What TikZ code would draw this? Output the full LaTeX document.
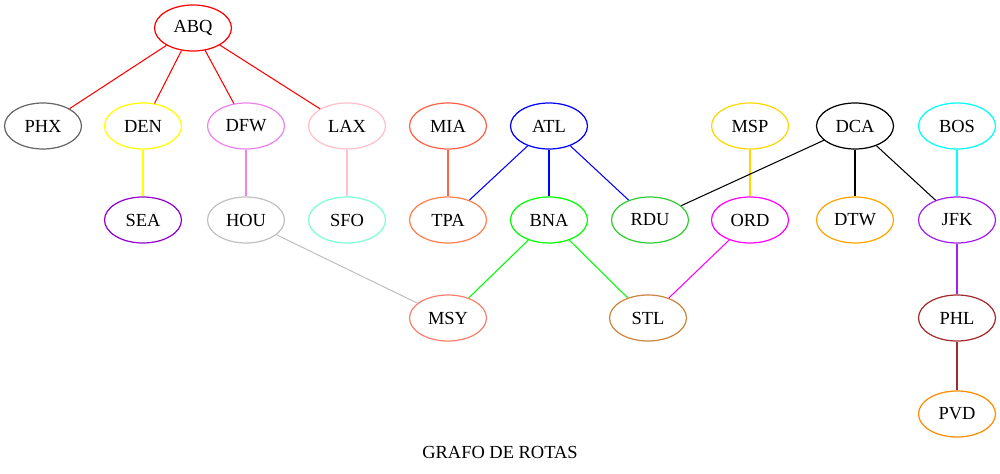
\documentclass[tikz,border=0pt]{standalone}
\usepackage{fontspec}
\setmainfont{Liberation Serif}
\usetikzlibrary{shapes.geometric}

\definecolor{cGrayDark}{HTML}{666666}
\definecolor{cYellow}{HTML}{FFFF00}
\definecolor{cViolet}{HTML}{EE82EE}
\definecolor{cPink}{HTML}{FFC0CB}
\definecolor{cTomato}{HTML}{FF6347}
\definecolor{cBlue}{HTML}{0000FF}
\definecolor{cGold}{HTML}{FFD700}
\definecolor{cCyan}{HTML}{00FFFF}
\definecolor{cDarkViolet}{HTML}{9400D3}
\definecolor{cGray}{HTML}{C0C0C0}
\definecolor{cAqua}{HTML}{7FFFD4}
\definecolor{cCoral}{HTML}{FF7F50}
\definecolor{cGreen}{HTML}{00FF00}
\definecolor{cLime}{HTML}{32CD32}
\definecolor{cMagenta}{HTML}{FF00FF}
\definecolor{cOrange}{HTML}{FFA500}
\definecolor{cPurple}{HTML}{A020F0}
\definecolor{cSalmon}{HTML}{FA8072}
\definecolor{cPeru}{HTML}{CD853F}
\definecolor{cBrown}{HTML}{A52A2A}
\definecolor{cDarkOrange}{HTML}{FF8C00}

\begin{document}
\begin{tikzpicture}[x=0.02cm,y=-0.02cm,
  apt/.style={ellipse,draw,line width=0.7pt,minimum width=1.54cm,minimum height=0.92cm,inner sep=0pt,font=\fontsize{10.5}{12}\selectfont},
  route/.style={line width=0.6pt}]
\useasboundingbox (0,0) rectangle (1000,473);

% first row
\node[apt,draw=red] (ABQ) at (193,28) {ABQ};
\node[apt,draw=cGrayDark] (PHX) at (43,126) {PHX};
\node[apt,draw=cYellow] (DEN) at (143,126) {DEN};
\node[apt,draw=cViolet] (DFW) at (246,126) {DFW};
\node[apt,draw=cPink] (LAX) at (347,126) {LAX};
\node[apt,draw=cTomato] (MIA) at (448,126) {MIA};
\node[apt,draw=cBlue] (ATL) at (549,126) {ATL};
\node[apt,draw=cGold] (MSP) at (750,126) {MSP};
\node[apt,draw=black] (DCA) at (855,126) {DCA};
\node[apt,draw=cCyan] (BOS) at (957,126) {BOS};
% second row
\node[apt,draw=cDarkViolet] (SEA) at (143,220) {SEA};
\node[apt,draw=cGray] (HOU) at (246,220) {HOU};
\node[apt,draw=cAqua] (SFO) at (347,220) {SFO};
\node[apt,draw=cCoral] (TPA) at (448,220) {TPA};
\node[apt,draw=cGreen] (BNA) at (549,220) {BNA};
\node[apt,draw=cLime] (RDU) at (650,220) {RDU};
\node[apt,draw=cMagenta] (ORD) at (750,220) {ORD};
\node[apt,draw=cOrange] (DTW) at (855,220) {DTW};
\node[apt,draw=cPurple] (JFK) at (957,220) {JFK};
% third and fourth row
\node[apt,draw=cSalmon] (MSY) at (448,318) {MSY};
\node[apt,draw=cPeru] (STL) at (648,318) {STL};
\node[apt,draw=cBrown] (PHL) at (957,318) {PHL};
\node[apt,draw=cDarkOrange] (PVD) at (957,414) {PVD};

% routes
\draw[route,red] (ABQ) -- (PHX);
\draw[route,red] (ABQ) -- (DEN);
\draw[route,red] (ABQ) -- (DFW);
\draw[route,red] (ABQ) -- (LAX);
\draw[route,cYellow] (DEN) -- (SEA);
\draw[route,cViolet] (DFW) -- (HOU);
\draw[route,cPink] (LAX) -- (SFO);
\draw[route,cTomato] (MIA) -- (TPA);
\draw[route,cBlue] (ATL) -- (TPA);
\draw[route,cBlue] (ATL) -- (BNA);
\draw[route,cBlue] (ATL) -- (RDU);
\draw[route,cGold] (MSP) -- (ORD);
\draw[route,black] (DCA) -- (RDU);
\draw[route,black] (DCA) -- (DTW);
\draw[route,black] (DCA) -- (JFK);
\draw[route,cCyan] (BOS) -- (JFK);
\draw[route,cGray] (HOU) -- (MSY);
\draw[route,cGreen] (BNA) -- (MSY);
\draw[route,cGreen] (BNA) -- (STL);
\draw[route,cMagenta] (ORD) -- (STL);
\draw[route,cPurple] (JFK) -- (PHL);
\draw[route,cBrown] (PHL) -- (PVD);

\node[font=\fontsize{10.5}{12}\selectfont] (title) at (500,452) {GRAFO DE ROTAS};
\end{tikzpicture}
\end{document}
